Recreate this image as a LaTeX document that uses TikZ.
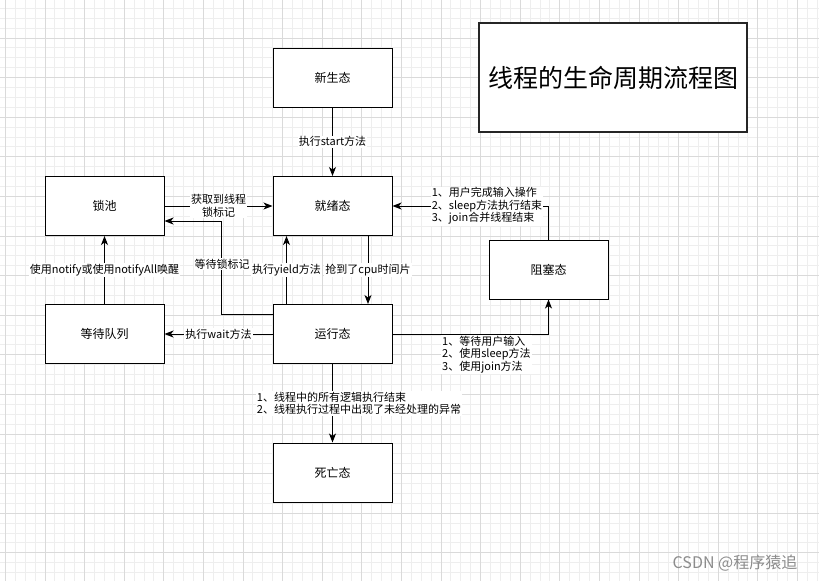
\documentclass[tikz,border=0pt]{standalone}
\usepackage{fontspec}
\newfontfamily\cjk{Noto Sans CJK SC}
\usetikzlibrary{arrows.meta,calc,positioning}
\definecolor{gridminor}{HTML}{EEEEEE}
\definecolor{gridmajor}{HTML}{DADADA}
\definecolor{markgray}{HTML}{8C8C8C}
\tikzset{
  state/.style={draw=black,line width=1pt,fill=white,minimum width=119pt,
    minimum height=59pt,inner sep=0pt,font=\cjk\fontsize{12}{14}\selectfont},
  titlebox/.style={draw=black!85,line width=1.2pt,fill=white,minimum width=268pt,
    minimum height=109pt,inner sep=0pt,font=\cjk\fontsize{25}{28}\selectfont},
  flow/.style={-{Stealth[length=9pt,width=7pt,inset=2.5pt]},line width=1pt},
  lbl/.style={font=\cjk\fontsize{11}{12.5}\selectfont,fill=white,inner sep=1pt},
  gminor/.style={gridminor,line width=1pt},
  gmajor/.style={gridmajor,line width=1pt},
}
\begin{document}
\begin{tikzpicture}[x=1pt,y=-1pt]
  \useasboundingbox (0,0) rectangle (819,581);
  \fill[white] (0,0) rectangle (819,581);
  % grid of the canvas
  \foreach \k [evaluate=\k as \gx using 5.4+9.9*\k] in {0,...,82}
    \draw[gminor] (\gx,0) -- (\gx,581);
  \foreach \k [evaluate=\k as \gy using -1.6+9.9*\k] in {1,...,59}
    \draw[gminor] (0,\gy) -- (819,\gy);
  \foreach \k [evaluate=\k as \gx using 5.4+39.6*\k] in {0,...,20}
    \draw[gmajor] (\gx,0) -- (\gx,581);
  \foreach \k [evaluate=\k as \gy using -1.6+39.6*\k] in {1,...,14}
    \draw[gmajor] (0,\gy) -- (819,\gy);

  % states
  \node[state] (new) at (332.5,77.5) {新生态};
  \node[state] (ready) at (332.5,206) {就绪态};
  \node[state] (lock) at (104.5,206) {锁池};
  \node[state] (waitq) at (104.5,334) {等待队列};
  \node[state] (run) at (332.5,334) {运行态};
  \node[state] (dead) at (332.5,472.5) {死亡态};
  \node[state] (block) at (548.5,269.5) {阻塞态};
  \node[titlebox] (title) at (613,77.5) {线程的生命周期流程图};

  % transitions
  \draw[flow] (new) -- (ready) node[lbl,midway] {执行start方法};
  \draw[flow] (lock) -- (ready) node[lbl,midway,align=center] {获取到线程\\锁标记};
  \draw[flow] ([yshift=20pt]run.west) -- ++(-51,0) |- ([yshift=-15pt]lock.east);
  \node[lbl] (waitlk) at (222,264) {等待锁标记};
  \draw[flow] (run) -- (waitq) node[lbl,midway] {执行wait方法};
  \draw[flow] (waitq) -- (lock) node[lbl,midway] {使用notify或使用notifyAll唤醒};
  \draw[flow] ([xshift=-46pt]run.north) -- ([xshift=-46pt]ready.south)
    node[lbl,midway] {执行yield方法};
  \draw[flow] ([xshift=35.5pt]ready.south) -- ([xshift=35.5pt]run.north)
    node[lbl,midway] {抢到了cpu时间片};
  \draw[flow] (run) -- (dead) node[lbl,midway,xshift=26.5pt,align=left]
    {1、线程中的所有逻辑执行结束\\2、线程执行过程中出现了未经处理的异常};
  \draw[flow] (run.east) -| (block.south);
  \node[lbl,anchor=west,align=left] (blockin) at (441,354.5)
    {1、等待用户输入\\2、使用sleep方法\\3、使用join方法};
  \draw[flow] (block.north) |- (ready.east);
  \node[lbl,align=left] (blockout) at (487,206)
    {1、用户完成输入操作\\2、sleep方法执行结束\\3、join合并线程结束};

  % watermark
  \node[font=\cjk\fontsize{16}{18}\selectfont,text=markgray] (mark) at (735,563)
    {CSDN @程序猿追};
\end{tikzpicture}
\end{document}
